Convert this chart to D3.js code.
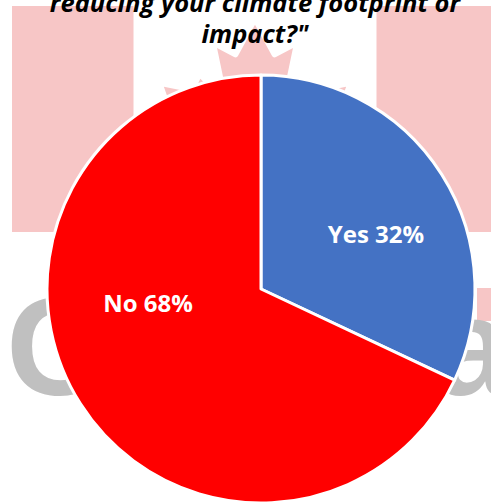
<!DOCTYPE html>
<html><head><meta charset="utf-8">
<script src="https://cdn.jsdelivr.net/npm/d3@7"></script>
<style>html,body{margin:0;padding:0;background:#fff;overflow:hidden}</style>
</head><body>
<svg id="c" width="491" height="504"></svg>
<script>
const categories = ["Yes", "No"];
const values = [32, 68];
const colors = ["#4472C4", "#FF0000"];
const titleLines = ["reducing your climate footprint or", "impact?\""];

const W = 491, H = 504;
const svg = d3.select("#c");

// faded background (flag + watermark)
const bg = svg.append("g");
const fx = d3.scaleLinear().domain([0, 9600]).range([12, 498]);
const fy = d3.scaleLinear().domain([0, 4800]).range([6, 232]);
const pink = "#F7C6C6";
bg.append("rect").attr("x", fx(0)).attr("y", fy(0)).attr("width", fx(2400) - fx(0)).attr("height", fy(4800) - fy(0)).attr("fill", pink);
bg.append("rect").attr("x", fx(7200)).attr("y", fy(0)).attr("width", fx(9600) - fx(7200)).attr("height", fy(4800) - fy(0)).attr("fill", pink);
bg.append("rect").attr("x", 477).attr("y", 288).attr("width", 20).attr("height", 33).attr("fill", pink);
const leaf = "m4890 4430-45-863a95 95 0 0 1 111-98l859 151-116-320a65 65 0 0 1 20-73l941-762-212-99a65 65 0 0 1-34-79l186-572-542 115a65 65 0 0 1-73-38l-105-247-423 454a65 65 0 0 1-111-57l204-1052-327 189a65 65 0 0 1-91-27l-332-652-332 652a65 65 0 0 1-91 27l-327-189 204 1052a65 65 0 0 1-111 57l-423-454-105 247a65 65 0 0 1-73 38l-542-115 186 572a65 65 0 0 1-34 79l-212 99 941 762a65 65 0 0 1 20 73l-116 320 859-151a95 95 0 0 1 111 98l-45 863z";
bg.append("path").attr("d", leaf).attr("fill", pink)
  .attr("transform", `translate(${fx(0)},${fy(0)}) scale(${(fx(9600)-fx(0))/9600},${(fy(4800)-fy(0))/4800})`);
bg.append("text").attr("x", 6).attr("y", 395).attr("font-family", "Liberation Sans, Arial, sans-serif")
  .attr("font-weight", "bold").attr("font-size", 140).attr("fill", "#C0C0C0").text("Canada");

// title
const title = svg.append("g").attr("font-family", "Open Sans, sans-serif").attr("font-weight", "bold")
  .attr("font-style", "italic").attr("font-size", 25.5).attr("fill", "#000").attr("text-anchor", "middle");
titleLines.forEach((t, i) => title.append("text").attr("x", 255).attr("y", 12 + i * 31).text(t));

// pie
const cx = 261, cy = 289, R = 214;
const pie = d3.pie().sort(null).value(d => d)(values);
const arc = d3.arc().innerRadius(0).outerRadius(R);
const g = svg.append("g").attr("transform", `translate(${cx},${cy})`);
g.selectAll("path").data(pie).join("path")
  .attr("d", arc).attr("fill", (d, i) => colors[i])
  .attr("stroke", "#fff").attr("stroke-width", 3).attr("stroke-linejoin", "round");

const labelPos = [[115, -46], [-113, 23]];
g.selectAll("text.lbl").data(pie).join("text").attr("class", "lbl")
  .attr("x", (d, i) => labelPos[i][0]).attr("y", (d, i) => labelPos[i][1])
  .attr("text-anchor", "middle").attr("font-family", "Open Sans, sans-serif").attr("font-weight", "bold")
  .attr("font-size", 24).attr("fill", "#fff")
  .text((d, i) => `${categories[i]} ${values[i]}%`);
</script>
</body></html>
